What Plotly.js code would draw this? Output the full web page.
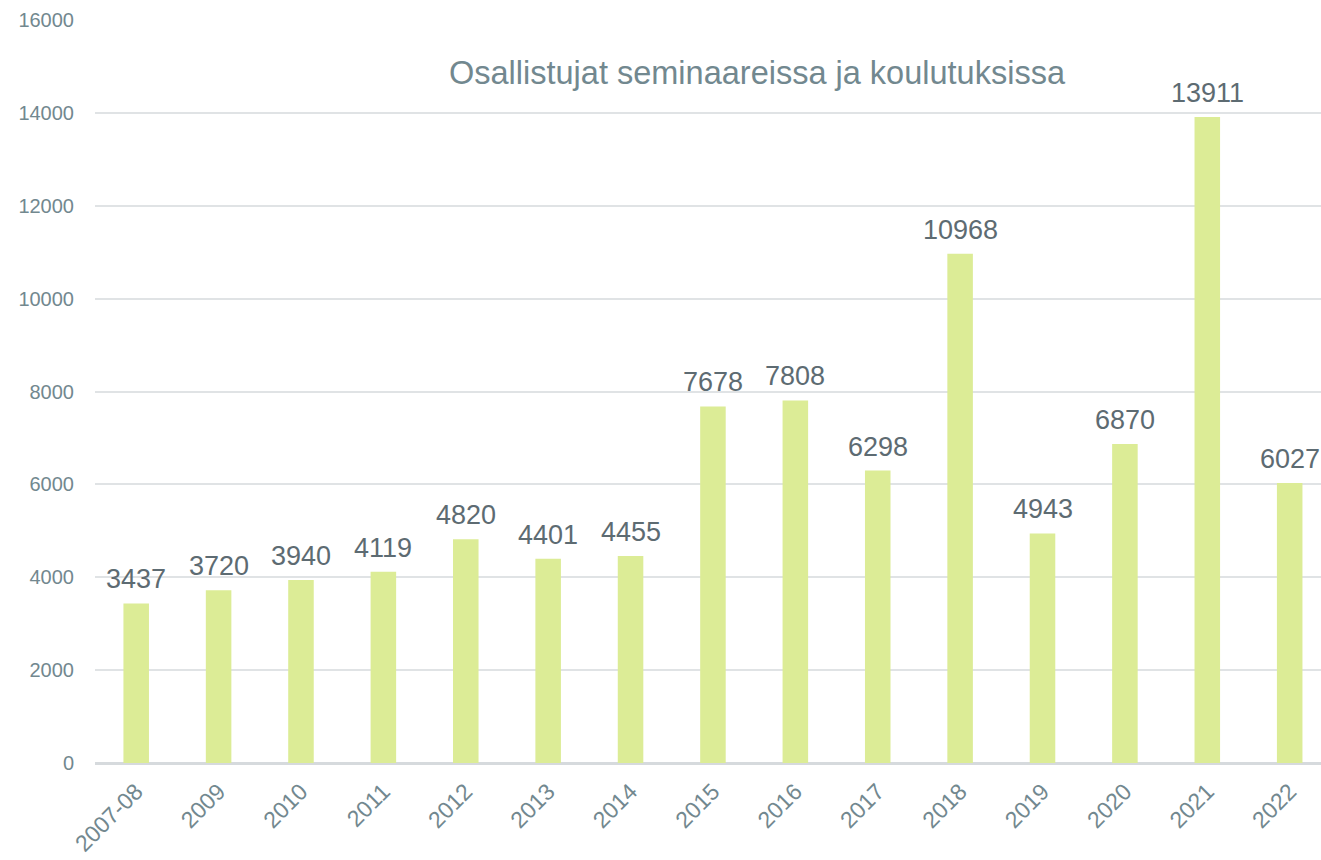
<!DOCTYPE html>
<html>
<head>
<meta charset="utf-8">
<script src="https://cdn.plot.ly/plotly-3.0.1.min.js"></script>
<style>html,body{margin:0;padding:0;background:#fff;}#chart{width:1321px;height:860px;}</style>
</head>
<body>
<div id="chart"></div>
<script>
const categories = ["2007-08","2009","2010","2011","2012","2013","2014","2015","2016","2017","2018","2019","2020","2021","2022"];
const participants = [3437,3720,3940,4119,4820,4401,4455,7678,7808,6298,10968,4943,6870,13911,6027];
const yTickValues = [0,2000,4000,6000,8000,10000,12000,14000,16000];
const chartTitle = "Osallistujat seminaareissa ja koulutuksissa";

const trace = {
  type: 'bar',
  x: categories,
  y: participants,
  marker: {color: '#dcec96'},
  width: 0.31,
  hoverinfo: 'x+y'
};

const annotations = participants.map((v, i) => ({
  x: i, y: v, xref: 'x', yref: 'y',
  text: String(v),
  showarrow: false, yanchor: 'bottom', yshift: 7,
  font: {family: 'Liberation Sans, Arial, sans-serif', size: 27, color: '#5d6b72'}
}));
annotations.push({
  xref: 'paper', yref: 'paper', x: 0.54, y: 0.929, xanchor: 'center', yanchor: 'middle',
  text: chartTitle, showarrow: false,
  font: {family: 'Liberation Sans, Arial, sans-serif', size: 32.5, color: '#72888f'}
});

const layout = {
  width: 1321, height: 860,
  margin: {l: 95, r: 0, t: 20, b: 97},
  paper_bgcolor: '#ffffff', plot_bgcolor: '#ffffff',
  showlegend: false,
  xaxis: {
    type: 'category',
    range: [-0.5, 14.38],
    tickangle: -45,
    tickfont: {family: 'Liberation Sans, Arial, sans-serif', size: 23, color: '#72888f'},
    ticks: 'outside', ticklen: 5, tickcolor: 'rgba(0,0,0,0)',
    showgrid: false, zeroline: false, showline: false
  },
  yaxis: {
    range: [0, 16000],
    tickvals: yTickValues,
    ticktext: yTickValues.map(String),
    tickfont: {family: 'Liberation Sans, Arial, sans-serif', size: 20, color: '#72888f'},
    ticks: 'outside', ticklen: 16, tickcolor: 'rgba(0,0,0,0)',
    showgrid: true, gridcolor: '#e0e3e5', gridwidth: 1.5,
    zeroline: true, zerolinecolor: '#d6dadd', zerolinewidth: 2.5,
    showline: false
  },
  annotations: annotations
};

Plotly.newPlot('chart', [trace], layout, {displayModeBar: false, responsive: false});
</script>
</body>
</html>
